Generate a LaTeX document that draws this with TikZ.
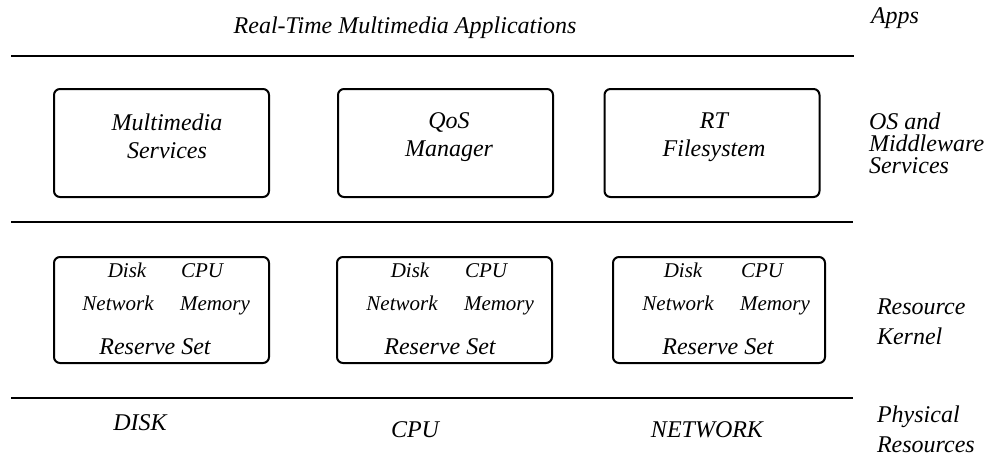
\documentclass[tikz,border=0pt]{standalone}
\usepackage{fontspec}
\setmainfont{Liberation Serif}
\usepackage{tikz}

\begin{document}
\begin{tikzpicture}[
  x=0.5pt, y=-0.5pt,
  svc/.style={draw, line width=1pt, rounded corners=3pt,
              minimum width=107.5pt, minimum height=54pt},
  rsv/.style={draw, line width=1pt, rounded corners=3pt,
              minimum width=#1, minimum height=53pt},
  rsv/.default=107.5pt,
  txt/.style={font=\itshape\fontsize{12}{14}\selectfont, align=center},
  sml/.style={font=\itshape\fontsize{10.5}{12}\selectfont, anchor=base},
  lyr/.style={font=\itshape\fontsize{12}{#1}\selectfont, align=left, anchor=west},
  lyr/.default=11pt,
  layer/.style={line width=1.2pt}
]
\useasboundingbox (0,0) rectangle (987,456);

%% Layer lines
\draw[layer] (11,56)  -- (854,56);
\draw[layer] (11,222) -- (853,222);
\draw[layer] (11,398) -- (853,398);

%% Applications
\node[txt] (apps) at (405,28) {Real-Time Multimedia Applications};

%% OS and middleware services
\node[svc] (mms) at (161.5,143) {};
\node[svc] (qos) at (445.5,143) {};
\node[svc] (rtfs) at (712,143) {};
\node[txt] (mmst) at (167,136) {Multimedia\\Services};
\node[txt] (qost) at (449,137) {QoS\\Manager};
\node[txt] (rtfst) at (714,137) {RT\\Filesystem};

%% Reserve sets
\node[rsv] (rs1) at (161.5,310) {};
\node[rsv] (rs2) at (444.5,310) {};
\node[rsv=106pt] (rs3) at (719,310) {};

\node[sml] (d1) at (127,277) {Disk};
\node[sml] (c1) at (202,277) {CPU};
\node[sml] (n1) at (118,310) {Network};
\node[sml] (m1) at (215,310) {Memory};
\node[txt, anchor=base] (r1) at (155,354) {Reserve Set};

\node[sml] (d2) at (410,277) {Disk};
\node[sml] (c2) at (486,277) {CPU};
\node[sml] (n2) at (402,310) {Network};
\node[sml] (m2) at (499,310) {Memory};
\node[txt, anchor=base] (r2) at (440,354) {Reserve Set};

\node[sml] (d3) at (683,277) {Disk};
\node[sml] (c3) at (762,277) {CPU};
\node[sml] (n3) at (678,310) {Network};
\node[sml] (m3) at (775,310) {Memory};
\node[txt, anchor=base] (r3) at (718,354) {Reserve Set};

%% Physical resources
\node[txt] (disk) at (140,423) {DISK};
\node[txt] (cpu)  at (415,430) {CPU};
\node[txt] (net)  at (707,430) {NETWORK};

%% Layer names
\node[lyr] (lapps) at (864,18)  {Apps};
\node[lyr] (los)   at (862,143) {OS and\\Middleware\\Services};
\node[lyr=15pt] (lrk) at (870,322) {Resource\\Kernel};
\node[lyr=15pt] (lpr) at (870,429) {Physical\\Resources};

\end{tikzpicture}
\end{document}
